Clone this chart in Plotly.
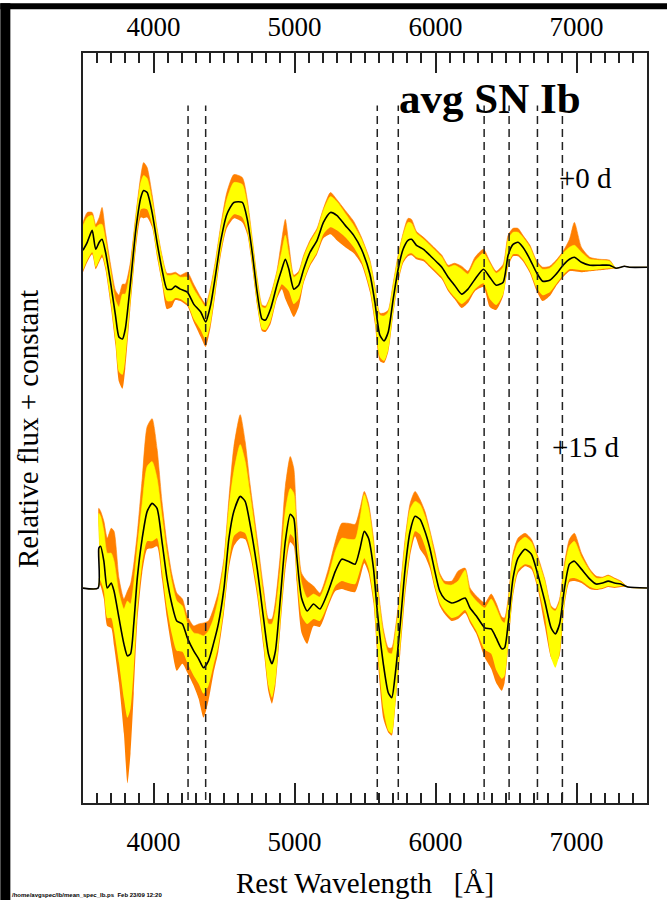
import plotly.graph_objects as go

# ---------------------------------------------------------------
# Average SN Ib spectra at two epochs.
# Flux is relative to the red continuum of each epoch; the bands give
# the spread about the mean (yellow = 1 sigma, orange = full range),
# stored as extents above / below the mean.
# ---------------------------------------------------------------

# +0 d
wave_0 = [3500, 3530, 3565, 3590, 3615, 3635, 3660, 3695, 3730, 3755, 3780, 3800,
          3835, 3875, 3910, 3930, 3955, 3990, 4025, 4060, 4095, 4130, 4155, 4190,
          4240, 4285, 4335, 4370, 4405, 4440, 4475, 4520, 4570, 4630, 4665, 4700,
          4735, 4770, 4795, 4830, 4875, 4910, 4935, 4960, 4995, 5030, 5065, 5110,
          5160, 5205, 5255, 5300, 5360, 5420, 5475, 5535, 5570, 5605, 5635, 5665,
          5700, 5735, 5770, 5805, 5830, 5865, 5915, 5960, 6010, 6045, 6090, 6135,
          6185, 6230, 6280, 6340, 6385, 6430, 6480, 6515, 6550, 6585, 6620, 6670,
          6715, 6760, 6810, 6855, 6905, 6950, 6985, 7035, 7095, 7165, 7235, 7280,
          7340, 7375, 7500]
mean_0 = [0.17, 0.25, 0.37, 0.18, 0.25, 0.28, 0.15, -0.15, -0.48, -0.70, -0.72, -0.62,
          -0.18, 0.38, 0.70, 0.77, 0.75, 0.55, 0.25, -0.02, -0.22, -0.22, -0.19, -0.22,
          -0.25, -0.37, -0.45, -0.55, -0.38, -0.08, 0.25, 0.53, 0.65, 0.65, 0.48, 0.15,
          -0.25, -0.52, -0.53, -0.42, -0.18, -0.02, 0.08, -0.02, -0.22, -0.18, -0.02, 0.15,
          0.27, 0.45, 0.55, 0.52, 0.42, 0.32, 0.18, -0.07, -0.35, -0.68, -0.74, -0.65,
          -0.32, -0.02, 0.18, 0.27, 0.28, 0.22, 0.18, 0.12, 0.05, 0.00, -0.10, -0.18,
          -0.27, -0.22, -0.12, -0.02, -0.10, -0.18, -0.15, 0.12, 0.23, 0.25, 0.20, 0.08,
          -0.05, -0.14, -0.13, -0.07, 0.02, 0.08, 0.10, 0.05, 0.02, 0.02, 0.02, -0.01,
          0.01, 0.00, 0.00]
sig_hi_0 = [0.25, 0.25, 0.15, 0.22, 0.18, 0.15, 0.12, 0.12, 0.15, 0.30, 0.45, 0.35,
            0.15, 0.12, 0.15, 0.15, 0.14, 0.12, 0.12, 0.12, 0.14, 0.14, 0.12, 0.12,
            0.15, 0.15, 0.12, 0.15, 0.15, 0.12, 0.12, 0.15, 0.20, 0.18, 0.15, 0.12,
            0.12, 0.12, 0.12, 0.12, 0.12, 0.18, 0.24, 0.15, 0.12, 0.12, 0.12, 0.10,
            0.10, 0.12, 0.16, 0.14, 0.12, 0.10, 0.10, 0.12, 0.14, 0.20, 0.25, 0.20,
            0.14, 0.12, 0.14, 0.18, 0.16, 0.12, 0.10, 0.10, 0.10, 0.10, 0.10, 0.20,
            0.25, 0.15, 0.18, 0.16, 0.14, 0.12, 0.15, 0.16, 0.12, 0.10, 0.10, 0.12,
            0.10, 0.12, 0.12, 0.12, 0.12, 0.12, 0.12, 0.10, 0.06, 0.05, 0.04, 0.00,
            0.00, 0.00, 0.00]
sig_lo_0 = [0.20, 0.18, 0.22, 0.18, 0.18, 0.15, 0.15, 0.18, 0.25, 0.35, 0.36, 0.30,
            0.20, 0.15, 0.12, 0.18, 0.17, 0.12, 0.12, 0.12, 0.12, 0.12, 0.12, 0.10,
            0.12, 0.15, 0.18, 0.18, 0.18, 0.15, 0.12, 0.10, 0.12, 0.15, 0.12, 0.12,
            0.12, 0.10, 0.10, 0.12, 0.12, 0.15, 0.28, 0.22, 0.15, 0.14, 0.12, 0.12,
            0.12, 0.12, 0.15, 0.15, 0.12, 0.12, 0.12, 0.15, 0.18, 0.22, 0.20, 0.18,
            0.14, 0.12, 0.12, 0.14, 0.14, 0.12, 0.10, 0.10, 0.10, 0.10, 0.12, 0.12,
            0.10, 0.10, 0.10, 0.14, 0.22, 0.20, 0.12, 0.10, 0.10, 0.12, 0.12, 0.12,
            0.15, 0.14, 0.12, 0.10, 0.10, 0.10, 0.12, 0.08, 0.05, 0.04, 0.03, 0.00,
            0.00, 0.00, 0.00]
rng_hi_0 = [0.28, 0.30, 0.18, 0.25, 0.25, 0.32, 0.20, 0.18, 0.25, 0.42, 0.55, 0.45,
            0.22, 0.15, 0.22, 0.28, 0.25, 0.18, 0.14, 0.14, 0.16, 0.16, 0.14, 0.14,
            0.20, 0.20, 0.15, 0.18, 0.18, 0.15, 0.15, 0.22, 0.28, 0.25, 0.20, 0.14,
            0.14, 0.14, 0.14, 0.14, 0.14, 0.30, 0.40, 0.25, 0.14, 0.14, 0.14, 0.12,
            0.12, 0.14, 0.20, 0.16, 0.15, 0.14, 0.12, 0.14, 0.16, 0.22, 0.28, 0.22,
            0.16, 0.14, 0.16, 0.22, 0.20, 0.14, 0.12, 0.12, 0.12, 0.12, 0.12, 0.22,
            0.28, 0.18, 0.22, 0.20, 0.16, 0.14, 0.18, 0.20, 0.16, 0.14, 0.12, 0.14,
            0.12, 0.14, 0.14, 0.14, 0.14, 0.20, 0.35, 0.15, 0.08, 0.06, 0.05, 0.00,
            0.00, 0.00, 0.00]
rng_lo_0 = [0.22, 0.20, 0.24, 0.20, 0.20, 0.18, 0.18, 0.22, 0.30, 0.45, 0.50, 0.40,
            0.25, 0.20, 0.20, 0.28, 0.25, 0.15, 0.15, 0.14, 0.20, 0.18, 0.14, 0.12,
            0.14, 0.18, 0.25, 0.25, 0.22, 0.18, 0.15, 0.14, 0.16, 0.20, 0.15, 0.15,
            0.14, 0.12, 0.12, 0.15, 0.14, 0.20, 0.40, 0.38, 0.28, 0.22, 0.14, 0.14,
            0.14, 0.16, 0.22, 0.25, 0.22, 0.18, 0.15, 0.18, 0.22, 0.26, 0.22, 0.20,
            0.16, 0.14, 0.14, 0.16, 0.16, 0.14, 0.12, 0.12, 0.12, 0.12, 0.14, 0.14,
            0.14, 0.14, 0.12, 0.18, 0.30, 0.25, 0.14, 0.12, 0.12, 0.14, 0.14, 0.14,
            0.18, 0.20, 0.16, 0.12, 0.12, 0.12, 0.14, 0.10, 0.06, 0.05, 0.04, 0.00,
            0.00, 0.00, 0.00]

# +15 d
wave_15 = [3500, 3607, 3612, 3625, 3648, 3672, 3700, 3720, 3755, 3790, 3815, 3837,
           3860, 3885, 3920, 3955, 3990, 4025, 4060, 4095, 4130, 4165, 4205, 4240,
           4285, 4320, 4355, 4390, 4425, 4460, 4500, 4535, 4570, 4615, 4650, 4685,
           4735, 4780, 4815, 4840, 4865, 4900, 4935, 4970, 4995, 5015, 5050, 5090,
           5135, 5180, 5240, 5290, 5335, 5380, 5430, 5465, 5495, 5525, 5560, 5585,
           5630, 5665, 5690, 5715, 5750, 5785, 5820, 5855, 5890, 5925, 5960, 5995,
           6030, 6065, 6115, 6160, 6210, 6245, 6290, 6350, 6395, 6430, 6470, 6490,
           6515, 6550, 6585, 6635, 6680, 6725, 6775, 6820, 6850, 6880, 6915, 6950,
           6985, 7035, 7095, 7140, 7185, 7225, 7270, 7315, 7365, 7500]
mean_15 = [0.00, 0.00, 0.40, 0.42, 0.27, 0.00, 0.05, -0.03, -0.30, -0.56, -0.68, -0.66,
           -0.36, 0.10, 0.50, 0.77, 0.85, 0.80, 0.47, 0.10, -0.16, -0.33, -0.36, -0.50,
           -0.63, -0.71, -0.80, -0.73, -0.56, -0.36, 0.00, 0.50, 0.77, 0.92, 0.87, 0.64,
           0.20, -0.30, -0.66, -0.76, -0.63, -0.10, 0.47, 0.74, 0.70, 0.34, -0.10, -0.23,
           -0.16, -0.21, -0.03, 0.17, 0.29, 0.27, 0.24, 0.40, 0.57, 0.50, 0.20, -0.20,
           -0.76, -1.05, -1.10, -0.86, -0.36, 0.20, 0.57, 0.72, 0.69, 0.57, 0.40, 0.17,
           -0.03, -0.11, -0.15, -0.13, -0.10, -0.20, -0.28, -0.40, -0.41, -0.50, -0.61, -0.60,
           -0.36, 0.10, 0.30, 0.39, 0.34, 0.14, -0.13, -0.40, -0.46, -0.36, 0.00, 0.24,
           0.27, 0.19, 0.09, 0.04, 0.05, 0.07, 0.05, 0.04, 0.01, 0.00]
sig_hi_15 = [0.00, 0.00, 0.35, 0.30, 0.30, 0.35, 0.30, 0.30, 0.25, 0.35, 0.55, 0.50,
             0.40, 0.30, 0.35, 0.45, 0.42, 0.30, 0.25, 0.25, 0.22, 0.20, 0.18, 0.15,
             0.18, 0.25, 0.32, 0.30, 0.25, 0.25, 0.25, 0.30, 0.40, 0.52, 0.40, 0.30,
             0.22, 0.22, 0.30, 0.40, 0.40, 0.30, 0.30, 0.26, 0.25, 0.22, 0.15, 0.13,
             0.10, 0.12, 0.15, 0.20, 0.21, 0.22, 0.25, 0.30, 0.37, 0.30, 0.25, 0.25,
             0.30, 0.40, 0.44, 0.40, 0.30, 0.25, 0.22, 0.15, 0.15, 0.15, 0.15, 0.15,
             0.15, 0.15, 0.18, 0.20, 0.28, 0.15, 0.15, 0.20, 0.30, 0.30, 0.28, 0.25,
             0.20, 0.20, 0.15, 0.12, 0.12, 0.15, 0.20, 0.20, 0.23, 0.22, 0.20, 0.18,
             0.20, 0.12, 0.08, 0.06, 0.05, 0.05, 0.04, 0.02, 0.00, 0.00]
sig_lo_15 = [0.00, 0.00, 0.30, 0.35, 0.30, 0.30, 0.35, 0.40, 0.45, 0.55, 0.62, 0.55,
             0.45, 0.35, 0.25, 0.30, 0.38, 0.30, 0.30, 0.30, 0.30, 0.30, 0.28, 0.25,
             0.25, 0.25, 0.26, 0.25, 0.22, 0.22, 0.20, 0.25, 0.25, 0.35, 0.32, 0.25,
             0.22, 0.25, 0.32, 0.34, 0.30, 0.25, 0.22, 0.20, 0.20, 0.20, 0.18, 0.13,
             0.15, 0.12, 0.12, 0.15, 0.22, 0.22, 0.20, 0.22, 0.27, 0.30, 0.30, 0.35,
             0.45, 0.38, 0.36, 0.30, 0.25, 0.22, 0.20, 0.15, 0.15, 0.15, 0.15, 0.15,
             0.12, 0.12, 0.15, 0.15, 0.12, 0.12, 0.15, 0.22, 0.25, 0.32, 0.30, 0.28,
             0.22, 0.15, 0.12, 0.15, 0.12, 0.12, 0.15, 0.30, 0.34, 0.30, 0.15, 0.15,
             0.17, 0.12, 0.08, 0.05, 0.05, 0.05, 0.04, 0.02, 0.00, 0.00]
rng_hi_15 = [0.00, 0.00, 0.40, 0.35, 0.40, 0.50, 0.55, 0.60, 0.40, 0.45, 0.65, 0.70,
             0.60, 0.45, 0.60, 0.85, 0.85, 0.60, 0.40, 0.35, 0.30, 0.28, 0.25, 0.22,
             0.25, 0.35, 0.45, 0.40, 0.35, 0.32, 0.30, 0.40, 0.65, 0.82, 0.60, 0.40,
             0.30, 0.30, 0.35, 0.45, 0.50, 0.45, 0.55, 0.58, 0.50, 0.35, 0.25, 0.30,
             0.18, 0.16, 0.22, 0.30, 0.36, 0.38, 0.40, 0.40, 0.40, 0.35, 0.30, 0.30,
             0.35, 0.45, 0.50, 0.45, 0.35, 0.30, 0.28, 0.25, 0.20, 0.20, 0.18, 0.20,
             0.18, 0.18, 0.22, 0.30, 0.30, 0.20, 0.20, 0.25, 0.35, 0.35, 0.32, 0.30,
             0.25, 0.25, 0.20, 0.16, 0.15, 0.18, 0.22, 0.22, 0.25, 0.25, 0.25, 0.25,
             0.28, 0.16, 0.10, 0.08, 0.06, 0.06, 0.05, 0.03, 0.00, 0.00]
rng_lo_15 = [0.00, 0.00, 0.35, 0.40, 0.38, 0.38, 0.45, 0.55, 0.65, 0.90, 1.28, 1.00,
             0.70, 0.45, 0.35, 0.38, 0.45, 0.38, 0.38, 0.40, 0.45, 0.50, 0.40, 0.35,
             0.35, 0.40, 0.50, 0.40, 0.30, 0.28, 0.25, 0.30, 0.35, 0.42, 0.38, 0.30,
             0.28, 0.30, 0.38, 0.40, 0.35, 0.30, 0.30, 0.28, 0.28, 0.28, 0.35, 0.33,
             0.22, 0.18, 0.15, 0.20, 0.30, 0.30, 0.28, 0.30, 0.32, 0.35, 0.35, 0.42,
             0.55, 0.40, 0.38, 0.32, 0.30, 0.28, 0.25, 0.20, 0.30, 0.25, 0.20, 0.18,
             0.15, 0.15, 0.18, 0.18, 0.15, 0.15, 0.18, 0.30, 0.40, 0.45, 0.42, 0.35,
             0.25, 0.18, 0.15, 0.17, 0.15, 0.15, 0.25, 0.30, 0.30, 0.32, 0.18, 0.18,
             0.20, 0.14, 0.10, 0.06, 0.06, 0.06, 0.05, 0.03, 0.00, 0.00]

# vertical offsets that separate the two epochs
offset_0 = 5.377
offset_15 = 2.157

epoch_labels = ["+0 d", "+15 d"]
title_text = "avg SN Ib"

# He I lines blueshifted to about -15000 and -7000 km/s
marker_lines = [4245, 4370, 5587, 5736, 6345, 6522, 6723, 6900]

x_range = [3500, 7500]
y_range = [0, 7.527]

ORANGE = "#ff7f00"
YELLOW = "#ffff00"
SERIF = "Liberation Serif"

fig = go.Figure()


def add_epoch(wave, mean, s_hi, s_lo, r_hi, r_lo, off):
    def band(up, dn, color):
        lo = [off + m - d for m, d in zip(mean, dn)]
        hi = [off + m + u for m, u in zip(mean, up)]
        fig.add_trace(go.Scatter(x=wave, y=lo, mode="lines",
                                 line=dict(width=0, color=color, shape="spline", smoothing=0.6),
                                 hoverinfo="skip", showlegend=False))
        fig.add_trace(go.Scatter(x=wave, y=hi, mode="lines", fill="tonexty",
                                 fillcolor=color,
                                 line=dict(width=0.6, color=color, shape="spline", smoothing=0.6),
                                 hoverinfo="skip", showlegend=False))

    band(r_hi, r_lo, ORANGE)
    band(s_hi, s_lo, YELLOW)
    fig.add_trace(go.Scatter(x=wave, y=[off + m for m in mean], mode="lines",
                             line=dict(width=1.6, color="black", shape="spline", smoothing=0.6),
                             showlegend=False))


add_epoch(wave_0, mean_0, sig_hi_0, sig_lo_0, rng_hi_0, rng_lo_0, offset_0)
add_epoch(wave_15, mean_15, sig_hi_15, sig_lo_15, rng_hi_15, rng_lo_15, offset_15)

# carrier trace for the top axis
fig.add_trace(go.Scatter(x=[x_range[0]], y=[None], xaxis="x2", mode="lines",
                         showlegend=False, hoverinfo="skip"))

for w in marker_lines:
    fig.add_shape(type="line", xref="x", yref="y", x0=w, x1=w, y0=0.03, y1=7.0,
                  line=dict(color="#222222", width=1.5, dash="8px,5px"), layer="above")

axis_common = dict(
    range=x_range, showgrid=False, zeroline=False,
    showline=True, linecolor="#222222", linewidth=1.5,
    ticks="inside", ticklen=20, tickwidth=1.5, tickcolor="#222222",
    tick0=0, dtick=1000,
    minor=dict(ticks="inside", ticklen=10, tickwidth=1.5, tickcolor="#222222", dtick=100),
    tickfont=dict(family=SERIF, size=27, color="black"),
)

fig.update_layout(
    width=667, height=900,
    margin=dict(l=83, r=20, t=50, b=97),
    paper_bgcolor="white", plot_bgcolor="white",
    showlegend=False,
    xaxis=dict(**axis_common, mirror=True, ticklabelstandoff=14),
    xaxis2=dict(**axis_common, overlaying="x", matches="x", side="top", anchor="y",
                ticklabelstandoff=4),
    yaxis=dict(range=y_range, showgrid=False, zeroline=False, showline=True,
               linecolor="#222222", linewidth=1.5, mirror=True,
               ticks="", showticklabels=False),
)

annotations = [
    dict(x=5727, y=7.07, xref="x", yref="y", text=f"<b>{title_text}</b>",
         xanchor="left", yanchor="middle", showarrow=False,
         font=dict(family=SERIF, size=43, color="black")),
    dict(x=7064, y=6.277, xref="x", yref="y", text=epoch_labels[0],
         xanchor="center", yanchor="middle", showarrow=False,
         font=dict(family=SERIF, size=29, color="black")),
    dict(x=7064, y=3.577, xref="x", yref="y", text=epoch_labels[1],
         xanchor="center", yanchor="middle", showarrow=False,
         font=dict(family=SERIF, size=29, color="black")),
    dict(x=0.5, y=-0.1067, xref="paper", yref="paper",
         text="Rest Wavelength\u00a0\u00a0\u00a0[Å]", showarrow=False,
         xanchor="center", yanchor="middle",
         font=dict(family=SERIF, size=29, color="black")),
    dict(x=-0.0987, y=0.499, xref="paper", yref="paper",
         text="Relative flux + constant", textangle=-90, showarrow=False,
         xanchor="center", yanchor="middle",
         font=dict(family=SERIF, size=29, color="black")),
    dict(x=-0.1288, y=-0.1226, xref="paper", yref="paper",
         text="<b>/home/avgspec/Ib/mean_spec_Ib.ps  Feb 23/09 12:20</b>",
         showarrow=False, xanchor="left", yanchor="middle",
         font=dict(family="Liberation Sans", size=6, color="black")),
]
fig.update_layout(annotations=annotations)

# dark border strips along the top and left edges of the page
fig.add_shape(type="rect", xref="paper", yref="paper",
              x0=-0.1466, x1=-0.1288, y0=-0.1293, y1=1.0664,
              fillcolor="black", line=dict(width=0), layer="above")
fig.add_shape(type="rect", xref="paper", yref="paper",
              x0=-0.1466, x1=1.0355, y0=1.0584, y1=1.0664,
              fillcolor="black", line=dict(width=0), layer="above")

fig.write_html("out.html")
